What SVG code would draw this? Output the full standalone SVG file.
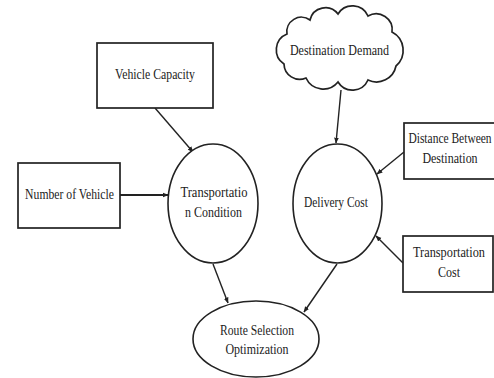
<svg xmlns="http://www.w3.org/2000/svg" width="494" height="378" viewBox="0 0 494 378">
  <style>
    .box { fill: #ffffff; stroke: #222; stroke-width: 1.7; }
    .ell { fill: #ffffff; stroke: #222; stroke-width: 1.6; }
    .lbl { font-family: "Liberation Serif", "Times New Roman", serif; font-size: 15px; fill: #222; text-anchor: middle; }
    .conn { stroke: #222; stroke-width: 1.4; fill: none; marker-end: url(#arr); }
  </style>
  <defs>
    <marker id="arr" viewBox="0 0 10 10" refX="9" refY="5" markerWidth="6" markerHeight="6" markerUnits="userSpaceOnUse" orient="auto">
      <path d="M0,1 L10,5 L0,9 Z" fill="#222"/>
    </marker>
  </defs>
  <rect width="494" height="378" fill="#ffffff"/>

  <g id="connectors">
    <line class="conn" x1="155" y1="108" x2="193" y2="152"/>
    <line class="conn" x1="120" y1="195" x2="168" y2="195" style="stroke-width:2"/>
    <line class="conn" x1="341" y1="90" x2="336" y2="143"/>
    <line class="conn" x1="404" y1="152" x2="377" y2="174"/>
    <line class="conn" x1="403" y1="263" x2="376" y2="236"/>
    <line class="conn" x1="337" y1="264" x2="304" y2="312"/>
    <line class="conn" x1="213" y1="264" x2="228" y2="303"/>
  </g>

  <g id="vehicle-capacity">
    <rect class="box" x="97" y="43" width="116" height="65"/>
    <text class="lbl" transform="translate(155,79) scale(0.8,1)" textLength="100" lengthAdjust="spacingAndGlyphs">Vehicle Capacity</text>
  </g>

  <g id="number-of-vehicle">
    <rect class="box" x="18" y="163" width="102" height="65"/>
    <text class="lbl" transform="translate(69.5,199) scale(0.8,1)" textLength="111" lengthAdjust="spacingAndGlyphs">Number of Vehicle</text>
  </g>

  <g id="transportation-condition">
    <ellipse class="ell" cx="213" cy="203.5" rx="45" ry="59.5"/>
    <text class="lbl" transform="translate(214,197) scale(0.8,1)" textLength="84" lengthAdjust="spacingAndGlyphs">Transportatio</text>
    <text class="lbl" transform="translate(213.5,217) scale(0.8,1)" textLength="71" lengthAdjust="spacingAndGlyphs">n Condition</text>
  </g>

  <g id="destination-demand">
    <path class="box" d="M284,64 A17,17 0 0 1 287,34 A14.6,14.6 0 0 1 310,20 A15.8,15.8 0 0 1 338,14 A17,17 0 0 1 368,16 A16,16 0 0 1 392,32 A20.7,20.7 0 0 1 396,66 A19.9,19.9 0 0 1 368,80 A17,17 0 0 1 338,82 A19,19 0 0 1 306,78 A15.7,15.7 0 0 1 284,64 Z"/>
    <text class="lbl" transform="translate(339.5,55) scale(0.8,1)" textLength="124" lengthAdjust="spacingAndGlyphs">Destination Demand</text>
  </g>

  <g id="delivery-cost">
    <ellipse class="ell" cx="337.5" cy="203.5" rx="44.5" ry="59.5"/>
    <text class="lbl" transform="translate(336,207) scale(0.8,1)" textLength="80" lengthAdjust="spacingAndGlyphs">Delivery Cost</text>
  </g>

  <g id="distance-between-destination">
    <rect class="box" x="404" y="123" width="92" height="56"/>
    <text class="lbl" transform="translate(450,143) scale(0.8,1)" textLength="104" lengthAdjust="spacingAndGlyphs">Distance Between</text>
    <text class="lbl" transform="translate(450,163) scale(0.8,1)" textLength="69" lengthAdjust="spacingAndGlyphs">Destination</text>
  </g>

  <g id="transportation-cost">
    <rect class="box" x="403" y="236" width="90" height="56"/>
    <text class="lbl" transform="translate(449,257) scale(0.8,1)" textLength="90" lengthAdjust="spacingAndGlyphs">Transportation</text>
    <text class="lbl" transform="translate(449,277) scale(0.8,1)" textLength="27.5" lengthAdjust="spacingAndGlyphs">Cost</text>
  </g>

  <g id="route-selection-optimization">
    <ellipse class="ell" cx="256" cy="339" rx="63" ry="38"/>
    <text class="lbl" transform="translate(257,335) scale(0.8,1)" textLength="92.5" lengthAdjust="spacingAndGlyphs">Route Selection</text>
    <text class="lbl" transform="translate(257,354) scale(0.8,1)" textLength="79" lengthAdjust="spacingAndGlyphs">Optimization</text>
  </g>
</svg>
